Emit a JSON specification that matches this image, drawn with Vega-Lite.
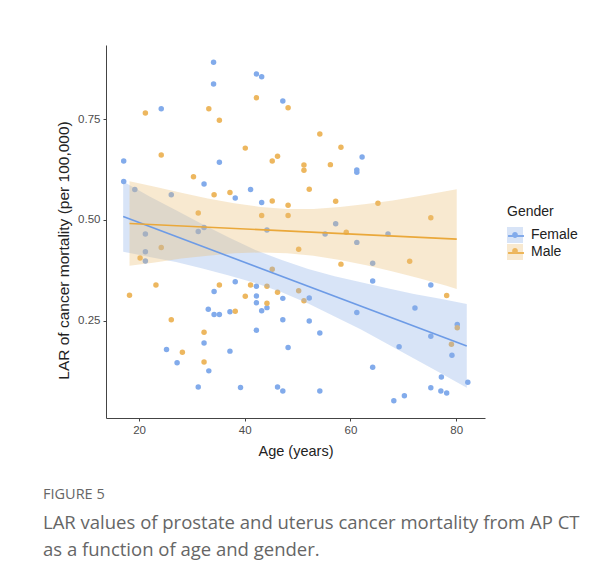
{
  "$schema": "https://vega.github.io/schema/vega-lite/v6.json",
  "width": 379,
  "height": 373,
  "autosize": {"type": "none"},
  "padding": {"left": 106, "top": 45, "right": 131, "bottom": 153},
  "background": "white",
  "config": {
    "view": {"stroke": null},
    "font": "Liberation Sans",
    "axis": {
      "grid": false,
      "domainColor": "#444",
      "domainWidth": 1,
      "tickColor": "#444",
      "tickSize": 3,
      "labelFont": "Liberation Sans",
      "labelFontSize": 11.5,
      "labelColor": "#4d4d4d",
      "labelPadding": 3,
      "titleFont": "Liberation Sans",
      "titleFontSize": 14.5,
      "titleFontWeight": "normal",
      "titleColor": "#222"
    },
    "legend": {
      "orient": "none",
      "legendX": 401,
      "legendY": 160,
      "titleFont": "Liberation Sans",
      "titleFontSize": 14,
      "titleFontWeight": "normal",
      "titleColor": "#222",
      "titlePadding": 8,
      "labelFont": "Liberation Sans",
      "labelFontSize": 14,
      "labelColor": "#222",
      "labelOffset": 8,
      "rowPadding": 1,
      "symbolSize": 256
    }
  },
  "title": {
    "text": "FIGURE 5",
    "subtitle": ["LAR values of prostate and uterus cancer mortality from AP CT", "as a function of age and gender."],
    "orient": "bottom",
    "anchor": "start",
    "frame": "group",
    "dx": -63,
    "offset": 30,
    "font": "Open Sans",
    "fontSize": 14.5,
    "fontWeight": "normal",
    "color": "#666",
    "subtitleFont": "Open Sans",
    "subtitleFontSize": 18.5,
    "subtitleColor": "#666",
    "subtitleLineHeight": 27,
    "subtitlePadding": 11
  },
  "datasets": {
    "pts": [
      {"age":34.1,"lar":0.891,"gender":"Female"},{"age":42.2,"lar":0.862,"gender":"Female"},{"age":43.2,"lar":0.855,"gender":"Female"},{"age":34.1,"lar":0.837,"gender":"Female"},{"age":47.2,"lar":0.795,"gender":"Female"},{"age":24.2,"lar":0.776,"gender":"Female"},{"age":17.1,"lar":0.646,"gender":"Female"},{"age":35.2,"lar":0.643,"gender":"Female"},{"age":17.1,"lar":0.595,"gender":"Female"},{"age":32.3,"lar":0.589,"gender":"Female"},{"age":41.1,"lar":0.575,"gender":"Female"},{"age":38.2,"lar":0.554,"gender":"Female"},{"age":43.2,"lar":0.543,"gender":"Female"},{"age":62.2,"lar":0.656,"gender":"Female"},{"age":61.2,"lar":0.624,"gender":"Female"},{"age":61.2,"lar":0.618,"gender":"Female"},{"age":19.2,"lar":0.575,"gender":"Female"},{"age":26.1,"lar":0.562,"gender":"Female"},{"age":57.2,"lar":0.49,"gender":"Female"},{"age":21.2,"lar":0.465,"gender":"Female"},{"age":31.2,"lar":0.471,"gender":"Female"},{"age":32.3,"lar":0.481,"gender":"Female"},{"age":44.2,"lar":0.475,"gender":"Female"},{"age":21.2,"lar":0.421,"gender":"Female"},{"age":21.2,"lar":0.398,"gender":"Female"},{"age":55.2,"lar":0.465,"gender":"Female"},{"age":67.1,"lar":0.465,"gender":"Female"},{"age":61.2,"lar":0.444,"gender":"Female"},{"age":64.2,"lar":0.392,"gender":"Female"},{"age":38.2,"lar":0.346,"gender":"Female"},{"age":34.2,"lar":0.322,"gender":"Female"},{"age":42.2,"lar":0.335,"gender":"Female"},{"age":42.2,"lar":0.311,"gender":"Female"},{"age":47.2,"lar":0.305,"gender":"Female"},{"age":42.2,"lar":0.294,"gender":"Female"},{"age":43.2,"lar":0.274,"gender":"Female"},{"age":44.2,"lar":0.282,"gender":"Female"},{"age":33.1,"lar":0.278,"gender":"Female"},{"age":34.2,"lar":0.265,"gender":"Female"},{"age":35.2,"lar":0.265,"gender":"Female"},{"age":37.2,"lar":0.272,"gender":"Female"},{"age":47.2,"lar":0.252,"gender":"Female"},{"age":42.2,"lar":0.226,"gender":"Female"},{"age":32.3,"lar":0.194,"gender":"Female"},{"age":25.2,"lar":0.178,"gender":"Female"},{"age":37.2,"lar":0.174,"gender":"Female"},{"age":48.2,"lar":0.183,"gender":"Female"},{"age":27.2,"lar":0.145,"gender":"Female"},{"age":33.2,"lar":0.125,"gender":"Female"},{"age":31.2,"lar":0.085,"gender":"Female"},{"age":39.2,"lar":0.084,"gender":"Female"},{"age":46.2,"lar":0.085,"gender":"Female"},{"age":47.2,"lar":0.075,"gender":"Female"},{"age":64.2,"lar":0.348,"gender":"Female"},{"age":75.2,"lar":0.338,"gender":"Female"},{"age":52.2,"lar":0.306,"gender":"Female"},{"age":52.2,"lar":0.249,"gender":"Female"},{"age":61.2,"lar":0.27,"gender":"Female"},{"age":72.2,"lar":0.281,"gender":"Female"},{"age":54.2,"lar":0.219,"gender":"Female"},{"age":80.2,"lar":0.24,"gender":"Female"},{"age":75.2,"lar":0.211,"gender":"Female"},{"age":69.2,"lar":0.185,"gender":"Female"},{"age":79.2,"lar":0.164,"gender":"Female"},{"age":64.2,"lar":0.134,"gender":"Female"},{"age":77.2,"lar":0.11,"gender":"Female"},{"age":54.2,"lar":0.075,"gender":"Female"},{"age":75.2,"lar":0.083,"gender":"Female"},{"age":77.1,"lar":0.075,"gender":"Female"},{"age":78.2,"lar":0.07,"gender":"Female"},{"age":82.2,"lar":0.097,"gender":"Female"},{"age":68.2,"lar":0.051,"gender":"Female"},{"age":70.2,"lar":0.063,"gender":"Female"},
      {"age":42.2,"lar":0.803,"gender":"Male"},{"age":48.2,"lar":0.778,"gender":"Male"},{"age":21.2,"lar":0.765,"gender":"Male"},{"age":33.2,"lar":0.776,"gender":"Male"},{"age":35.2,"lar":0.747,"gender":"Male"},{"age":40.1,"lar":0.678,"gender":"Male"},{"age":24.2,"lar":0.661,"gender":"Male"},{"age":45.2,"lar":0.646,"gender":"Male"},{"age":46.2,"lar":0.658,"gender":"Male"},{"age":30.3,"lar":0.607,"gender":"Male"},{"age":34.2,"lar":0.562,"gender":"Male"},{"age":37.2,"lar":0.568,"gender":"Male"},{"age":45.2,"lar":0.547,"gender":"Male"},{"age":48.2,"lar":0.536,"gender":"Male"},{"age":31.2,"lar":0.517,"gender":"Male"},{"age":43.2,"lar":0.511,"gender":"Male"},{"age":48.2,"lar":0.511,"gender":"Male"},{"age":54.2,"lar":0.713,"gender":"Male"},{"age":58.2,"lar":0.68,"gender":"Male"},{"age":51.2,"lar":0.636,"gender":"Male"},{"age":51.2,"lar":0.623,"gender":"Male"},{"age":56.2,"lar":0.637,"gender":"Male"},{"age":52.2,"lar":0.576,"gender":"Male"},{"age":57.2,"lar":0.546,"gender":"Male"},{"age":65.2,"lar":0.541,"gender":"Male"},{"age":75.2,"lar":0.505,"gender":"Male"},{"age":59.2,"lar":0.469,"gender":"Male"},{"age":24.2,"lar":0.431,"gender":"Male"},{"age":20.2,"lar":0.405,"gender":"Male"},{"age":50.2,"lar":0.427,"gender":"Male"},{"age":45.2,"lar":0.377,"gender":"Male"},{"age":18.2,"lar":0.313,"gender":"Male"},{"age":23.2,"lar":0.338,"gender":"Male"},{"age":35.2,"lar":0.338,"gender":"Male"},{"age":41.1,"lar":0.338,"gender":"Male"},{"age":46.2,"lar":0.32,"gender":"Male"},{"age":50.2,"lar":0.324,"gender":"Male"},{"age":40.1,"lar":0.31,"gender":"Male"},{"age":44.2,"lar":0.293,"gender":"Male"},{"age":38.2,"lar":0.273,"gender":"Male"},{"age":26.1,"lar":0.252,"gender":"Male"},{"age":32.3,"lar":0.221,"gender":"Male"},{"age":28.2,"lar":0.171,"gender":"Male"},{"age":32.3,"lar":0.147,"gender":"Male"},{"age":58.2,"lar":0.39,"gender":"Male"},{"age":71.2,"lar":0.397,"gender":"Male"},{"age":51.2,"lar":0.299,"gender":"Male"},{"age":78.2,"lar":0.312,"gender":"Male"},{"age":80.2,"lar":0.232,"gender":"Male"},{"age":79.1,"lar":0.191,"gender":"Male"},{"age":44.2,"lar":0.335,"gender":"Male"}
    ],
    "band": [
      {"age":17,"upper":0.595,"lower":0.421,"gender":"Female"},{"age":22,"upper":0.558,"lower":0.408,"gender":"Female"},{"age":27,"upper":0.524,"lower":0.395,"gender":"Female"},{"age":32,"upper":0.489,"lower":0.379,"gender":"Female"},{"age":37,"upper":0.456,"lower":0.362,"gender":"Female"},{"age":42,"upper":0.425,"lower":0.343,"gender":"Female"},{"age":47,"upper":0.4,"lower":0.32,"gender":"Female"},{"age":52,"upper":0.378,"lower":0.292,"gender":"Female"},{"age":57,"upper":0.36,"lower":0.26,"gender":"Female"},{"age":62,"upper":0.345,"lower":0.228,"gender":"Female"},{"age":67,"upper":0.33,"lower":0.192,"gender":"Female"},{"age":72,"upper":0.316,"lower":0.156,"gender":"Female"},{"age":77,"upper":0.304,"lower":0.12,"gender":"Female"},{"age":82,"upper":0.291,"lower":0.083,"gender":"Female"},
      {"age":18.2,"upper":0.596,"lower":0.386,"gender":"Male"},{"age":23,"upper":0.582,"lower":0.394,"gender":"Male"},{"age":28,"upper":0.567,"lower":0.404,"gender":"Male"},{"age":33,"upper":0.553,"lower":0.411,"gender":"Male"},{"age":38,"upper":0.541,"lower":0.417,"gender":"Male"},{"age":43,"upper":0.532,"lower":0.419,"gender":"Male"},{"age":48,"upper":0.527,"lower":0.417,"gender":"Male"},{"age":53,"upper":0.527,"lower":0.411,"gender":"Male"},{"age":58,"upper":0.532,"lower":0.4,"gender":"Male"},{"age":63,"upper":0.539,"lower":0.387,"gender":"Male"},{"age":68,"upper":0.548,"lower":0.372,"gender":"Male"},{"age":73,"upper":0.559,"lower":0.355,"gender":"Male"},{"age":78,"upper":0.571,"lower":0.337,"gender":"Male"},{"age":80.1,"upper":0.576,"lower":0.328,"gender":"Male"}
    ],
    "fit": [
      {"age":17,"lar":0.508,"gender":"Female"},{"age":82,"lar":0.187,"gender":"Female"},
      {"age":18.2,"lar":0.491,"gender":"Male"},{"age":80.1,"lar":0.452,"gender":"Male"}
    ]
  },
  "layer": [
    {
      "data": {"name": "pts"},
      "mark": {"type": "point", "filled": true, "size": 30, "opacity": 1, "strokeWidth": 0},
      "encoding": {
        "x": {"field": "age", "type": "quantitative", "scale": {"domain": [13.75, 85.45], "nice": false, "zero": false},
              "axis": {"values": [20, 40, 60, 80], "title": "Age (years)", "titlePadding": 9}},
        "y": {"field": "lar", "type": "quantitative", "scale": {"domain": [0.008, 0.934], "nice": false, "zero": false},
              "axis": {"values": [0.25, 0.5, 0.75], "format": ".2f", "title": "LAR of cancer mortality   (per 100,000)", "titleFontSize": 15.5, "titlePadding": 6, "titleY": 205}},
        "color": {"field": "gender", "type": "nominal",
                  "scale": {"domain": ["Female", "Male"], "range": ["#82abeb", "#edb75f"]},
                  "legend": {"title": " ", "labelExpr": "''", "symbolType": "M-0.36,0A0.36,0.36,0,1,1,0.36,0A0.36,0.36,0,1,1,-0.36,0Z", "symbolSize": 256, "symbolStrokeWidth": 0, "symbolOpacity": 1, "zindex": 3}}
      }
    },
    {
      "data": {"name": "band"},
      "mark": {"type": "area", "opacity": 0.33},
      "encoding": {
        "x": {"field": "age", "type": "quantitative"},
        "y": {"field": "upper", "type": "quantitative"},
        "y2": {"field": "lower"},
        "fill": {"field": "gender", "type": "nominal",
                 "scale": {"range": ["#8aace8", "#ebbd70"]},
                 "legend": {"title": "Gender", "symbolType": "square", "symbolSize": 256, "symbolStrokeWidth": 0, "symbolOpacity": 0.33, "zindex": 1}}
      }
    },
    {
      "data": {"name": "fit"},
      "mark": {"type": "line", "strokeWidth": 1.6},
      "encoding": {
        "x": {"field": "age", "type": "quantitative"},
        "y": {"field": "lar", "type": "quantitative"},
        "stroke": {"field": "gender", "type": "nominal",
                   "scale": {"range": ["#6d9be6", "#eaa83a"]},
                   "legend": {"title": " ", "labelExpr": "''", "symbolType": "stroke", "symbolSize": 256, "symbolStrokeWidth": 1.6, "zindex": 2}}
      }
    }
  ]
}
